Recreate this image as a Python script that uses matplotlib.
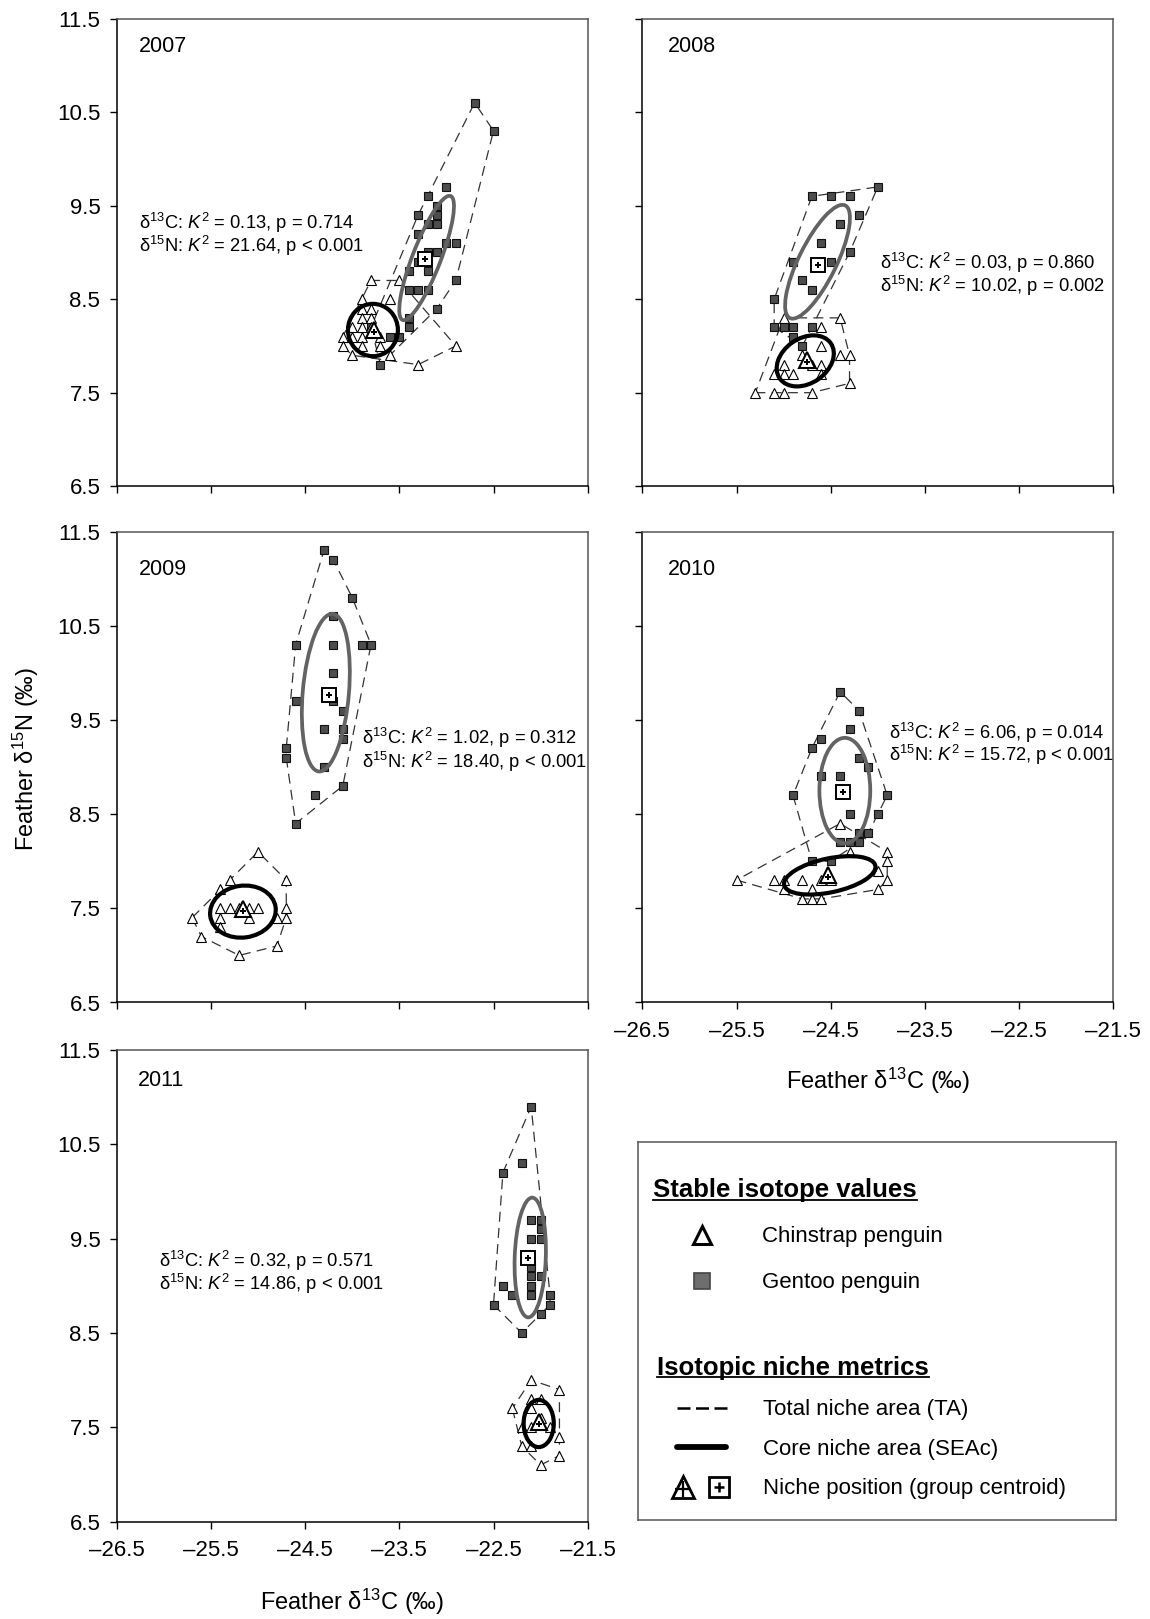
import numpy as np
import matplotlib
matplotlib.use("Agg")
import matplotlib.pyplot as plt
from matplotlib.patches import Ellipse
from matplotlib.ticker import FuncFormatter

plt.rcParams['font.family'] = ['Liberation Sans', 'DejaVu Sans']
plt.rcParams['mathtext.fontset'] = 'custom'
plt.rcParams['mathtext.rm'] = 'Liberation Sans'
plt.rcParams['mathtext.it'] = 'Liberation Sans:italic'
plt.rcParams['mathtext.bf'] = 'Liberation Sans:bold'

# ---- data (d13C, d15N per bird) ----
years = [2007, 2008, 2009, 2010, 2011]

chin_2007 = [(-23.8, 8.7), (-23.5, 8.7), (-23.9, 8.5), (-23.6, 8.5), (-23.9, 8.4), (-23.8, 8.4),
             (-23.9, 8.3), (-23.8, 8.3), (-24.0, 8.2), (-23.9, 8.2), (-23.8, 8.2), (-24.1, 8.1),
             (-24.0, 8.1), (-23.9, 8.1), (-23.7, 8.1), (-24.1, 8.0), (-23.9, 8.0), (-23.7, 8.0),
             (-24.0, 7.9), (-23.6, 7.9), (-23.3, 7.8), (-22.9, 8.0)]
gent_2007 = [(-22.7, 10.6), (-22.5, 10.3), (-23.0, 9.7), (-23.2, 9.6), (-23.1, 9.5), (-23.3, 9.4),
             (-23.1, 9.4), (-23.2, 9.3), (-23.1, 9.3), (-23.3, 9.2), (-23.0, 9.1), (-22.9, 9.1),
             (-23.2, 9.0), (-23.1, 9.0), (-23.3, 8.9), (-23.2, 8.8), (-23.4, 8.8), (-22.9, 8.7),
             (-23.4, 8.6), (-23.3, 8.6), (-23.2, 8.6), (-23.1, 8.4), (-23.4, 8.3), (-23.4, 8.2),
             (-23.6, 8.1), (-23.5, 8.1), (-23.7, 7.8), (-23.8, 8.2)]

chin_2008 = [(-25.0, 8.3), (-24.4, 8.3), (-24.6, 8.2), (-24.6, 8.0), (-24.4, 7.9), (-24.3, 7.9),
             (-25.0, 7.8), (-24.6, 7.8), (-24.8, 7.9), (-24.7, 7.8), (-25.1, 7.7), (-25.0, 7.7),
             (-24.9, 7.7), (-24.6, 7.7), (-24.3, 7.6), (-25.3, 7.5), (-25.1, 7.5), (-25.0, 7.5),
             (-24.7, 7.5)]
gent_2008 = [(-24.0, 9.7), (-24.7, 9.6), (-24.5, 9.6), (-24.3, 9.6), (-24.2, 9.4), (-24.4, 9.3),
             (-24.6, 9.1), (-24.3, 9.0), (-24.9, 8.9), (-24.5, 8.9), (-24.8, 8.7), (-24.7, 8.6),
             (-25.1, 8.5), (-25.1, 8.2), (-25.0, 8.2), (-24.9, 8.2), (-24.7, 8.2), (-24.9, 8.1),
             (-24.8, 8.0)]

chin_2009 = [(-25.0, 8.1), (-25.3, 7.8), (-24.7, 7.8), (-25.4, 7.7), (-25.4, 7.5), (-25.3, 7.5),
             (-25.0, 7.5), (-24.7, 7.5), (-25.7, 7.4), (-25.4, 7.4), (-25.1, 7.4), (-24.8, 7.4),
             (-24.7, 7.4), (-25.4, 7.3), (-25.6, 7.2), (-24.8, 7.1), (-25.2, 7.0), (-25.2, 7.5),
             (-25.1, 7.5)]
gent_2009 = [(-24.3, 11.3), (-24.2, 11.2), (-24.0, 10.8), (-24.2, 10.6), (-24.6, 10.3), (-24.2, 10.3),
             (-23.9, 10.3), (-23.8, 10.3), (-24.2, 10.0), (-24.6, 9.7), (-24.2, 9.7), (-24.1, 9.6),
             (-24.3, 9.4), (-24.1, 9.4), (-24.1, 9.3), (-24.7, 9.2), (-24.7, 9.1), (-24.3, 9.0),
             (-24.1, 8.8), (-24.4, 8.7), (-24.6, 8.4)]

chin_2010 = [(-24.4, 8.4), (-24.3, 8.1), (-23.9, 8.1), (-23.9, 8.0), (-24.0, 7.9), (-25.5, 7.8),
             (-25.1, 7.8), (-25.0, 7.8), (-24.8, 7.8), (-24.6, 7.8), (-24.5, 7.8), (-23.9, 7.8),
             (-25.0, 7.7), (-24.7, 7.7), (-24.0, 7.7), (-24.8, 7.6), (-24.7, 7.6), (-24.6, 7.6)]
gent_2010 = [(-24.4, 9.8), (-24.2, 9.6), (-24.3, 9.4), (-24.6, 9.3), (-24.7, 9.2), (-24.2, 9.1),
             (-24.1, 9.0), (-24.6, 8.9), (-24.4, 8.9), (-24.9, 8.7), (-23.9, 8.7), (-24.3, 8.5),
             (-24.0, 8.5), (-24.2, 8.3), (-24.1, 8.3), (-24.4, 8.2), (-24.3, 8.2), (-24.2, 8.2),
             (-24.7, 8.0), (-24.5, 8.0)]

chin_2011 = [(-22.1, 8.0), (-21.8, 7.9), (-22.1, 7.8), (-22.0, 7.8), (-22.3, 7.7), (-22.1, 7.7),
             (-22.2, 7.5), (-22.1, 7.5), (-21.9, 7.5), (-22.0, 7.6), (-21.8, 7.4), (-22.2, 7.3),
             (-22.1, 7.3), (-21.8, 7.2), (-22.0, 7.1)]
gent_2011 = [(-22.1, 10.9), (-22.2, 10.3), (-22.4, 10.2), (-22.1, 9.7), (-22.0, 9.7), (-22.0, 9.6),
             (-22.1, 9.5), (-22.0, 9.5), (-22.1, 9.2), (-22.1, 9.1), (-22.0, 9.1), (-22.1, 9.0),
             (-22.1, 8.9), (-22.4, 9.0), (-22.3, 8.9), (-21.9, 8.9), (-21.9, 8.8), (-22.5, 8.8),
             (-22.0, 8.7), (-22.2, 8.5)]

chin_pts = [chin_2007, chin_2008, chin_2009, chin_2010, chin_2011]
gent_pts = [gent_2007, gent_2008, gent_2009, gent_2010, gent_2011]

# group centroids
chin_centroid = [(-23.77, 8.17), (-24.75, 7.85), (-25.16, 7.49), (-24.53, 7.85), (-22.02, 7.56)]
gent_centroid = [(-23.23, 8.93), (-24.63, 8.87), (-24.25, 9.77), (-24.37, 8.73), (-22.13, 9.30)]

# SEAc ellipses: centre x, centre y, width, height, angle
chin_sea = [(-23.78, 8.17, 0.53, 0.56, 0), (-24.77, 7.84, 0.66, 0.48, 35),
            (-25.16, 7.465, 0.70, 0.55, 8), (-24.51, 7.85, 0.99, 0.36, 12),
            (-22.02, 7.54, 0.50, 0.32, 90)]
gent_sea = [(-23.21, 8.94, 1.42, 0.30, 69), (-24.64, 8.90, 1.34, 0.40, 64),
            (-24.28, 9.79, 1.68, 0.49, 85), (-24.35, 8.75, 1.12, 0.54, 90),
            (-22.11, 9.30, 1.27, 0.33, 88)]

# normality test results
k2_c = ["0.13", "0.03", "1.02", "6.06", "0.32"]
p_c = ["= 0.714", "= 0.860", "= 0.312", "= 0.014", "= 0.571"]
k2_n = ["21.64", "10.02", "18.40", "15.72", "14.86"]
p_n = ["< 0.001", "= 0.002", "< 0.001", "< 0.001", "< 0.001"]

W, H = 1150, 1619


def convex_hull(pts):
    pts = sorted(set(pts))

    def cross(o, a, b):
        return (a[0] - o[0]) * (b[1] - o[1]) - (a[1] - o[1]) * (b[0] - o[0])

    lower = []
    for p in pts:
        while len(lower) >= 2 and cross(lower[-2], lower[-1], p) <= 0:
            lower.pop()
        lower.append(p)
    upper = []
    for p in reversed(pts):
        while len(upper) >= 2 and cross(upper[-2], upper[-1], p) <= 0:
            upper.pop()
        upper.append(p)
    h = lower[:-1] + upper[:-1]
    return h + [h[0]]


def box(px_left, px_top, px_right, px_bottom):
    return [px_left / W, 1 - px_bottom / H, (px_right - px_left) / W, (px_bottom - px_top) / H]


# tick labels use an en dash for negatives, like the original
dash_fmt = FuncFormatter(lambda v, pos: ('%.1f' % v).replace('-', '\u2013'))

fig = plt.figure(figsize=(W / 100, H / 100), dpi=100)

cols = [(116.7, 587.7), (642.3, 1113.3)]
rows = [(18.6, 486.2), (531.6, 1002.5), (1050.0, 1521.6)]
# (row, col), year label pos, stats text pos (axes fraction)
layout = [
    (0, 0, (0.048, 0.940), (0.048, 0.5635, 0.514)),
    (0, 1, (0.054, 0.940), (0.505, 0.4767, 0.428)),
    (1, 0, (0.048, 0.920), (0.520, 0.561, 0.511)),
    (1, 1, (0.054, 0.920), (0.524, 0.572, 0.526)),
    (2, 0, (0.045, 0.935), (0.090, 0.553, 0.504)),
]

for i, (r, c, ypos, spos) in enumerate(layout):
    ax = fig.add_axes(box(cols[c][0], rows[r][0], cols[c][1], rows[r][1]))
    ax.set_xlim(-26.5, -21.5)
    ax.set_ylim(6.5, 11.5)
    ax.set_xticks(np.arange(-26.5, -21.4, 1.0))
    ax.set_yticks(np.arange(6.5, 11.6, 1.0))
    ax.tick_params(direction='out', length=5.3, width=1.0, labelsize=16)
    ax.tick_params(axis='y', pad=6.5)
    ax.tick_params(axis='x', pad=8)
    ax.xaxis.set_major_formatter(dash_fmt)
    ax.yaxis.set_major_formatter(dash_fmt)
    if not ((r == 1 and c == 1) or r == 2):
        ax.tick_params(labelbottom=False)
    if c == 1:
        ax.tick_params(labelleft=False)
    for s in ['left', 'bottom']:
        ax.spines[s].set_linewidth(1.1)
        ax.spines[s].set_color('black')
    for s in ['top', 'right']:
        ax.spines[s].set_linewidth(1.1)
        ax.spines[s].set_color('#555555')

    cp = chin_pts[i]
    gp = gent_pts[i]

    # total niche area (convex hulls)
    for pts in (gp, cp):
        h = convex_hull(pts)
        ax.plot([p[0] for p in h], [p[1] for p in h], color='#333333', lw=0.9,
                ls=(0, (8, 5)), zorder=1)

    ax.plot([p[0] for p in gp], [p[1] for p in gp], 's', ms=6, mfc='#4d4d4d',
            mec='#111111', mew=0.8, zorder=2)
    ax.plot([p[0] for p in cp], [p[1] for p in cp], '^', ms=7, mfc='white',
            mec='black', mew=0.8, zorder=3)

    ex, ey, ew, eh, ea = gent_sea[i]
    ax.add_patch(Ellipse((ex, ey), ew, eh, angle=ea, fill=False, ec='#636363', lw=2.7, zorder=4))
    ex, ey, ew, eh, ea = chin_sea[i]
    ax.add_patch(Ellipse((ex, ey), ew, eh, angle=ea, fill=False, ec='black', lw=3.0, zorder=4))

    gx, gy = gent_centroid[i]
    ax.plot(gx, gy, 's', ms=10, mfc='white', mec='black', mew=1.4, zorder=5)
    ax.plot(gx, gy, 'P', ms=4.5, color='black', mew=0, zorder=6)
    cx, cy = chin_centroid[i]
    ax.plot(cx, cy, '^', ms=11, mfc='white', mec='black', mew=1.5, zorder=5)
    ax.plot(cx, cy - 0.02, 'P', ms=4.5, color='black', mew=0, zorder=6)

    ax.text(ypos[0], ypos[1], str(years[i]), transform=ax.transAxes, fontsize=15.5,
            ha='left', va='center')
    ax.text(spos[0], spos[1], 'δ$^{13}$C: $K^{2}$ = ' + k2_c[i] + ', p ' + p_c[i],
            transform=ax.transAxes, fontsize=13.2, ha='left', va='center')
    ax.text(spos[0], spos[2], 'δ$^{15}$N: $K^{2}$ = ' + k2_n[i] + ', p ' + p_n[i],
            transform=ax.transAxes, fontsize=13.2, ha='left', va='center')

fig.text(352.2 / W, 1 - 1602 / H, 'Feather δ$^{13}$C (‰)', ha='center', va='center', fontsize=17)
fig.text(877.8 / W, 1 - 1081 / H, 'Feather δ$^{13}$C (‰)', ha='center', va='center', fontsize=17)
fig.text(25.8 / W, 1 - 758.7 / H, 'Feather δ$^{15}$N (‰)', ha='center', va='center',
         fontsize=17, rotation=90)

# ---- legend box drawn in pixel space ----
lax = fig.add_axes(box(638.3, 1142.3, 1116.0, 1520.0))
lax.set_xlim(638.3, 1116.0)
lax.set_ylim(1520.0, 1142.3)
lax.set_xticks([])
lax.set_yticks([])
for s in lax.spines.values():
    s.set_color('#555555')
    s.set_linewidth(1.1)

h1 = lax.text(653.3, 1197, 'Stable isotope values', fontsize=18.5, fontweight='bold', va='baseline')
h2 = lax.text(657.3, 1374.5, 'Isotopic niche metrics', fontsize=18.5, fontweight='bold', va='baseline')

lax.plot(702, 1235, '^', ms=13, mfc='white', mec='black', mew=2.2, clip_on=False)
lax.text(762.3, 1241.5, 'Chinstrap penguin', fontsize=16, va='baseline')
lax.plot(702, 1281, 's', ms=11, mfc='#6e6e6e', mec='#444444', mew=1.2)
lax.text(762.3, 1287.5, 'Gentoo penguin', fontsize=16, va='baseline')

lax.plot([676.7, 726.7], [1408.3, 1408.3], color='black', lw=1.8, ls=(0, (5.2, 2.2)))
lax.text(763.3, 1415, 'Total niche area (TA)', fontsize=16, va='baseline')
lax.plot([677.5, 726.5], [1447.3, 1447.3], color='black', lw=4.2, solid_capstyle='round')
lax.text(763.3, 1455, 'Core niche area (SEAc)', fontsize=16, va='baseline')
lax.plot(683.3, 1486.7, '^', ms=16, mfc='white', mec='black', mew=2.0)
lax.plot(683.3, 1489, '+', ms=11, color='black', mew=1.6)
lax.plot(719, 1486.7, 's', ms=14, mfc='white', mec='black', mew=2.0)
lax.plot(719, 1486.7, '+', ms=7, color='black', mew=1.8)
lax.text(763.3, 1494, 'Niche position (group centroid)', fontsize=16, va='baseline')

# underline the two headings
fig.canvas.draw()
inv = lax.transData.inverted()
for t, yl in ((h1, 1199.5), (h2, 1377.0)):
    bb = t.get_window_extent()
    x0 = inv.transform((bb.x0, bb.y0))[0]
    x1 = inv.transform((bb.x1, bb.y0))[0]
    lax.plot([x0, x1], [yl, yl], color='black', lw=1.3)

fig.savefig('out.png', dpi=100)
